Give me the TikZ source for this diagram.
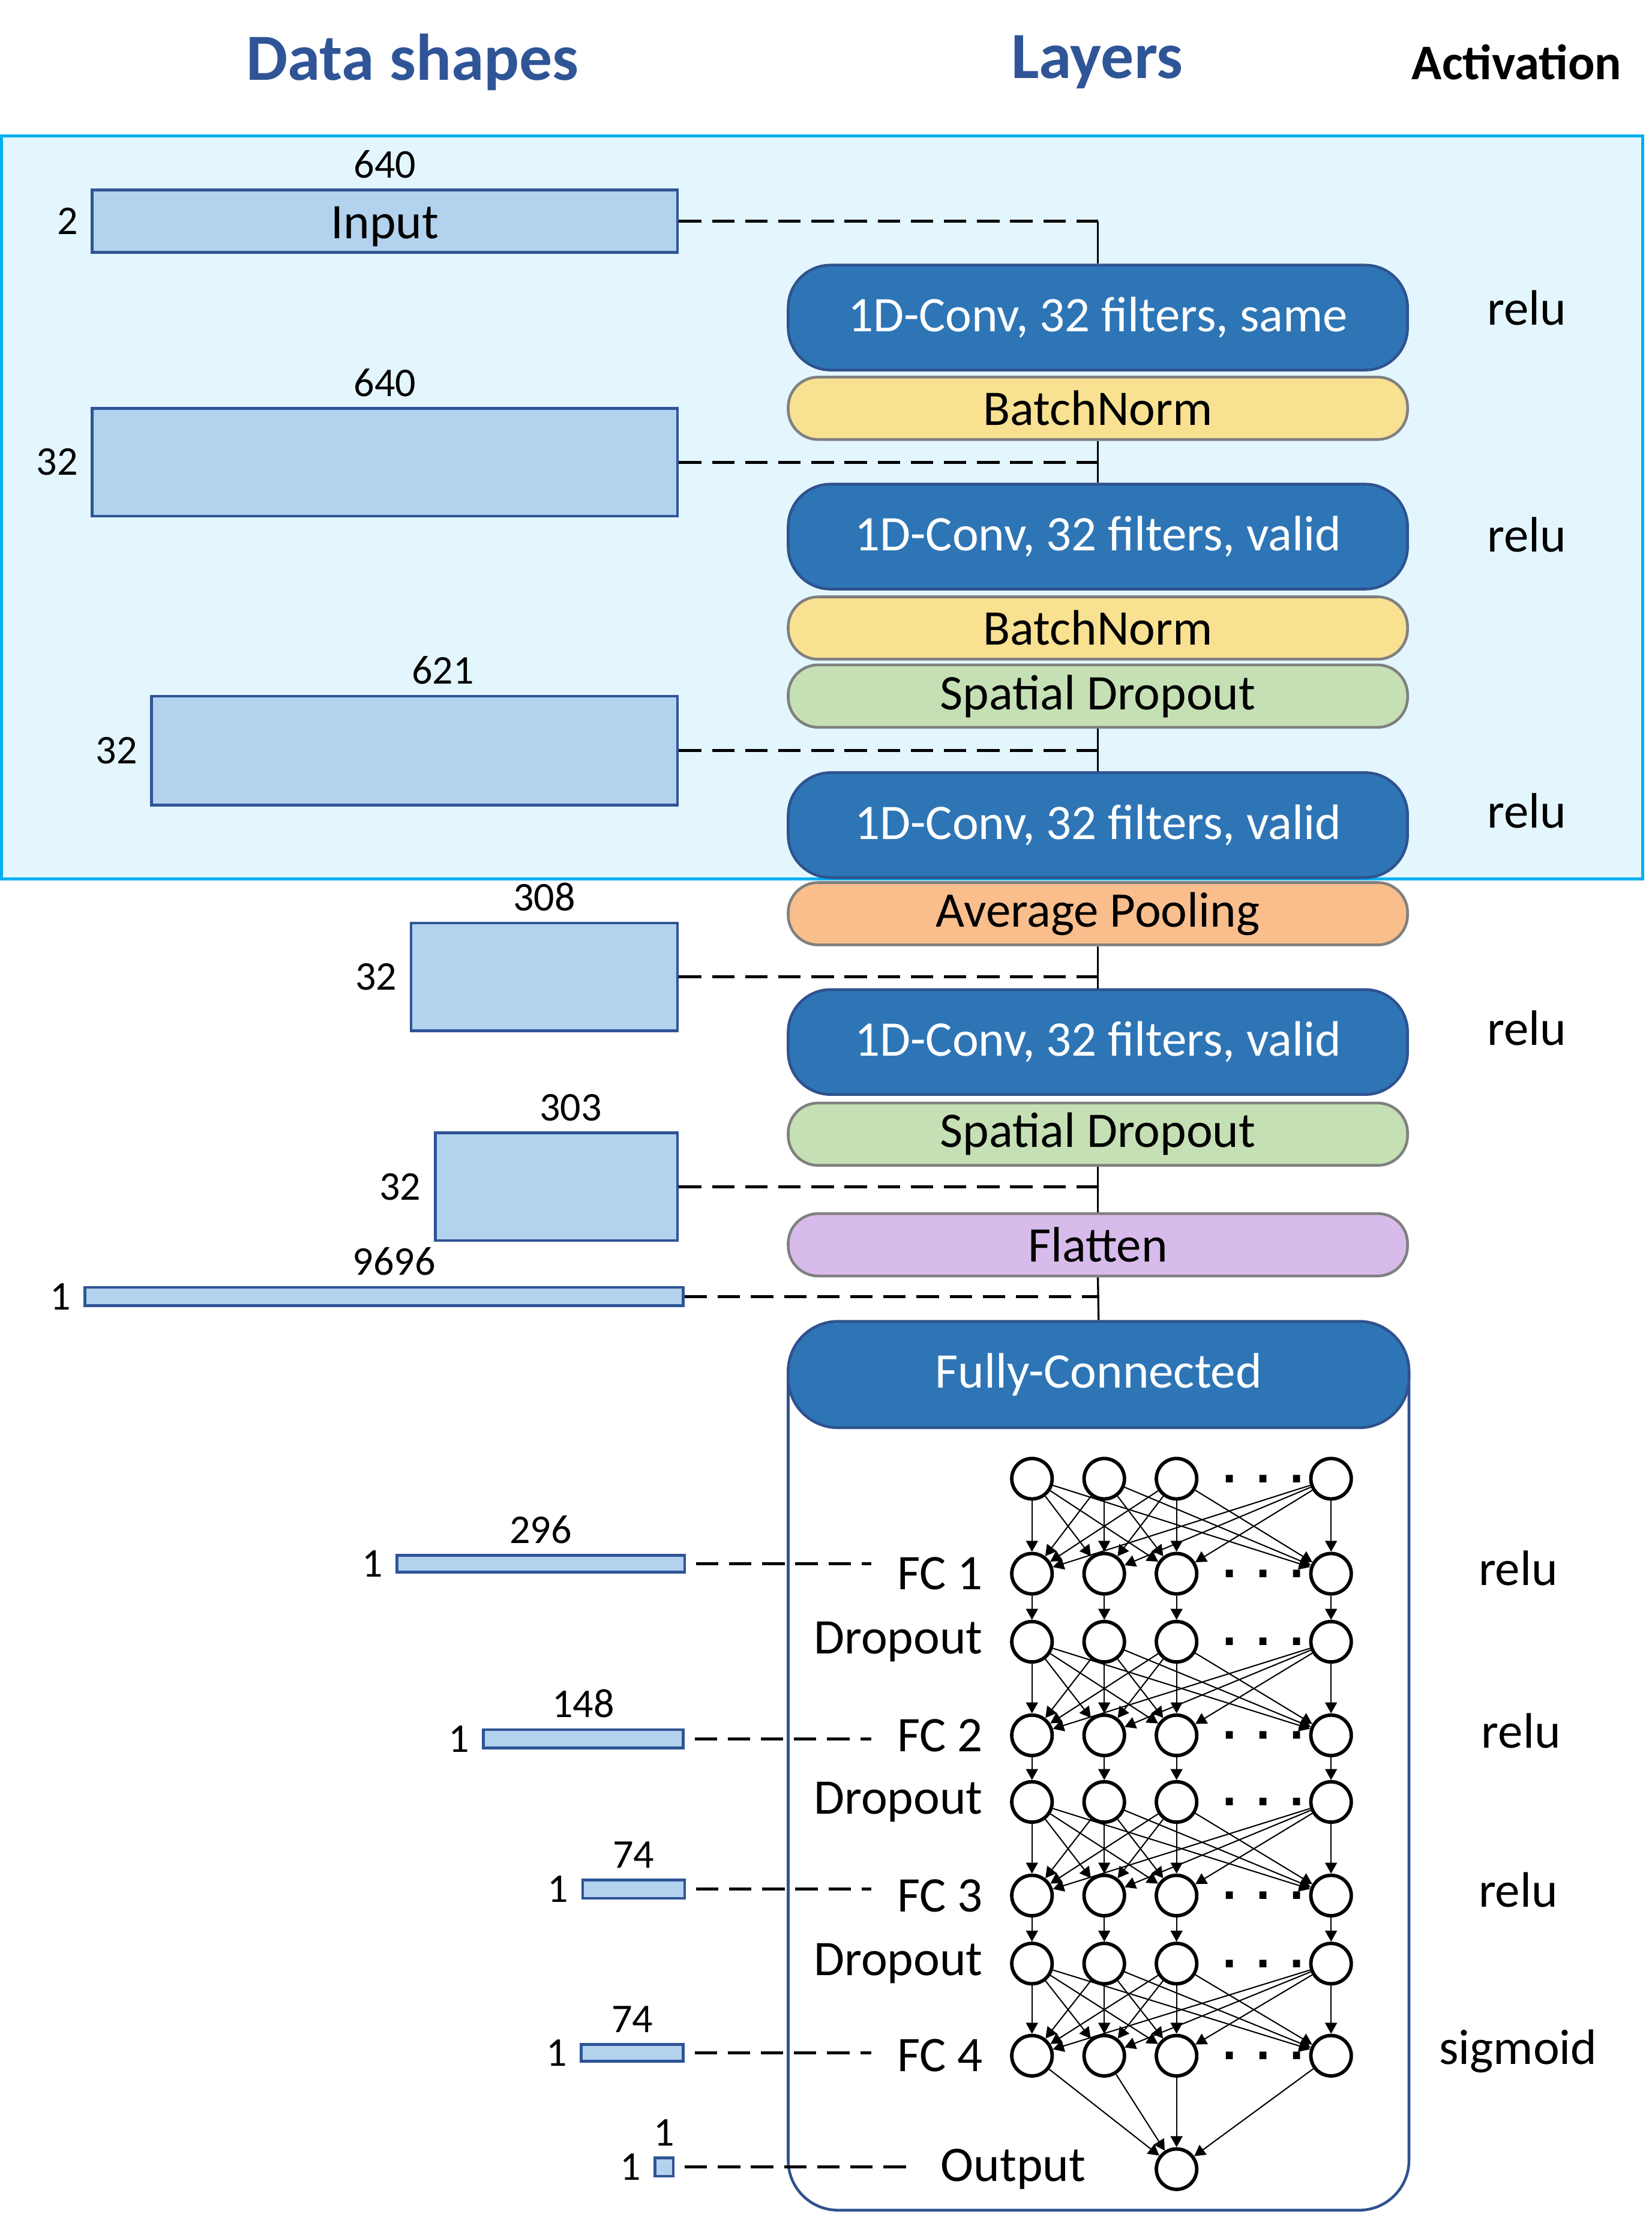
\documentclass[tikz,border=0pt]{standalone}
\usepackage{fontspec}
\setmainfont{Carlito}
\newfontfamily\dotfont{DejaVu Sans}
\usetikzlibrary{arrows.meta,positioning,calc,fit}

\definecolor{titleblue}{RGB}{47,85,151}
\definecolor{convblue}{RGB}{46,117,182}
\definecolor{convedge}{RGB}{47,82,143}
\definecolor{shapefill}{RGB}{178,210,238}
\definecolor{shapeedge}{RGB}{47,84,150}
\definecolor{normyellow}{RGB}{248,225,145}
\definecolor{dropgreen}{RGB}{197,224,180}
\definecolor{poolorange}{RGB}{250,190,140}
\definecolor{flatpurple}{RGB}{215,187,234}
\definecolor{stagefill}{RGB}{227,246,253}
\definecolor{stageedge}{RGB}{0,176,240}

\begin{document}
\begin{tikzpicture}[x=0.02cm, y=-0.02cm, node distance=0.6cm,
    heading/.style={font=\fontsize{26.5}{30}\selectfont\bfseries, text=titleblue},
    datashape/.style={draw=shapeedge, fill=shapefill, line width=1.1pt, inner sep=0pt},
    dimlabel/.style={font=\fontsize{16.4}{18}\selectfont, inner sep=2pt},
    layerbox/.style={minimum width=8.74cm, minimum height=0.88cm, rounded corners=12pt, draw=gray, line width=1.1pt, font=\fontsize{20}{24}\selectfont},
    convbox/.style={layerbox, minimum height=1.48cm, rounded corners=17pt, fill=convblue, draw=convedge, text=white},
    acttext/.style={font=\fontsize{20}{24}\selectfont},
    dashline/.style={line width=1.2pt, dash pattern=on 9pt off 4.3pt},
    link/.style={line width=0.8pt},
    neuron/.style={circle, draw, line width=1.4pt, minimum size=0.57cm, inner sep=0pt},
    synapse/.style={line width=0.5pt, -{Triangle[length=4.4pt, width=4.8pt]}},
    fclabel/.style={font=\fontsize{20}{24}\selectfont},
  ]
  \useasboundingbox (0,0) rectangle (1165,1568);

  % column headings
  \node (hshape) [heading] at (291,44) {Data shapes};
  \node (hlayer) [heading] at (774,44) {Layers};
  \node (hact) [font=\fontsize{20}{24}\selectfont\bfseries] at (1070,44) {Activation};

  % convolutional stage
  \node (stage) [fit={(1,96) (1159,620)}, inner sep=0pt, draw=stageedge, fill=stagefill, line width=1.2pt] {};

  % data shapes
  \node (r1) [datashape, fit={(65,134) (478,178)}] {};
  \node (r2) [datashape, fit={(65,288) (478,364)}] {};
  \node (r3) [datashape, fit={(107,491) (478,568)}] {};
  \node (r4) [datashape, fit={(290,651) (478,727)}] {};
  \node (r5) [datashape, fit={(307,799) (478,875)}] {};
  \node (r6) [datashape, fit={(60,908) (482,921)}] {};
  \node (r7) [datashape, fit={(280,1097) (483,1109)}] {};
  \node (r8) [datashape, fit={(341,1220) (482,1233)}] {};
  \node (r9) [datashape, fit={(411,1326) (483,1339)}] {};
  \node (r10) [datashape, fit={(410,1442) (482,1454)}] {};
  \node (r11) [datashape, fit={(462,1522) (475,1535)}] {};
  \node (inlab) [font=\fontsize{20}{24}\selectfont, yshift=-0.08cm] at (r1.center) {Input};

  \node (w1) [dimlabel, above=2pt of r1] {640};
  \node (w2) [dimlabel, above=2pt of r2] {640};
  \node (w3) [dimlabel, above=2pt of r3, xshift=0.4cm] {621};
  \node (w4) [dimlabel, above=2pt of r4] {308};
  \node (w5) [dimlabel, above=2pt of r5, xshift=0.2cm] {303};
  \node (w6) [dimlabel, above=2pt of r6, xshift=0.14cm] {9696};
  \node (w7) [dimlabel, above=2pt of r7] {296};
  \node (w8) [dimlabel, above=2pt of r8] {148};
  \node (w9) [dimlabel, above=2pt of r9] {74};
  \node (w10) [dimlabel, above=2pt of r10] {74};
  \node (w11) [dimlabel, above=2pt of r11] {1};

  \node (h1) [dimlabel, left=3pt of r1] {2};
  \node (h2) [dimlabel, left=3pt of r2] {32};
  \node (h3) [dimlabel, left=3pt of r3] {32};
  \node (h4) [dimlabel, left=3pt of r4] {32};
  \node (h5) [dimlabel, left=3pt of r5] {32};
  \node (h6) [dimlabel, left=3pt of r6] {1};
  \node (h7) [dimlabel, left=3pt of r7] {1};
  \node (h8) [dimlabel, left=3pt of r8] {1};
  \node (h9) [dimlabel, left=3pt of r9] {1};
  \node (h10) [dimlabel, left=3pt of r10] {1};
  \node (h11) [dimlabel, left=3pt of r11] {1};

  % layers
  \node (conv1) [convbox] at (774.5,224) {1D-Conv, 32 filters, same};
  \node (bn1) [layerbox, fill=normyellow] at (774.5,288) {BatchNorm};
  \node (conv2) [convbox] at (774.5,378.5) {1D-Conv, 32 filters, valid};
  \node (bn2) [layerbox, fill=normyellow] at (774.5,443) {BatchNorm};
  \node (sd1) [layerbox, fill=dropgreen] at (774.5,491) {Spatial Dropout};
  \node (conv3) [convbox] at (774.5,582) {1D-Conv, 32 filters, valid};
  \node (pool) [layerbox, fill=poolorange] at (774.5,644.5) {Average Pooling};
  \node (conv4) [convbox] at (774.5,735) {1D-Conv, 32 filters, valid};
  \node (sd2) [layerbox, fill=dropgreen] at (774.5,800) {Spatial Dropout};
  \node (flat) [layerbox, fill=flatpurple] at (774.5,878) {Flatten};
  \node (fcbox) [minimum width=8.76cm, minimum height=12.54cm, draw=convedge, line width=1.1pt, rounded corners=20pt, fill=white] at (775,1245.5) {};
  \node (fchead) [convbox, minimum width=8.76cm, minimum height=1.5cm, rounded corners=20pt, anchor=north] at (fcbox.north) {Fully-Connected};

  % activations
  \node (a1) [acttext] at (1077,217) {relu};
  \node (a2) [acttext] at (1077,377) {relu};
  \node (a3) [acttext] at (1077,572) {relu};
  \node (a4) [acttext] at (1077,725) {relu};
  \node (a5) [acttext] at (1071,1106) {relu};
  \node (a6) [acttext] at (1073,1221) {relu};
  \node (a7) [acttext] at (1071,1333) {relu};
  \node (a8) [acttext] at (1071,1447) {sigmoid};

  % shapes to layers
  \draw[dashline] (r1.east) -- (r1.east -| conv1.north);
  \draw[link] (r1.east -| conv1.north) -- (conv1.north);
  \draw[dashline] (r2.east) -- (r2.east -| bn1.south);
  \draw[link] (bn1.south) -- (conv2.north);
  \draw[dashline] (r3.east) -- (r3.east -| sd1.south);
  \draw[link] (sd1.south) -- (conv3.north);
  \draw[dashline] (r4.east) -- (r4.east -| pool.south);
  \draw[link] (pool.south) -- (conv4.north);
  \draw[dashline] (r5.east) -- (r5.east -| sd2.south);
  \draw[link] (sd2.south) -- (flat.north);
  \draw[dashline] (r6.east) -- (r6.east -| flat.south);
  \draw[link] (flat.south) -- (fcbox.north);

  % dense network
  \foreach \row/\yy in {0/1043, 1/1110, 2/1158, 3/1224, 4/1271, 5/1337, 6/1385, 7/1450} {
    \foreach \col/\xx in {1/728, 2/779, 3/830, 4/939}
      \node (n\row\col) [neuron] at (\xx,\yy) {};
    \node (dots\row) [font=\dotfont\fontsize{16}{16}\selectfont\bfseries] at (891,\yy) {. . .};
  }
  \node (out) [neuron] at (830,1530) {};

  \foreach \a/\b in {0/1, 2/3, 4/5, 6/7}
    \foreach \i in {1,...,4}
      \foreach \j in {1,...,4}
        \draw[synapse] (n\a\i) -- (n\b\j);
  \foreach \a/\b in {1/2, 3/4, 5/6}
    \foreach \i in {1,...,4}
      \draw[synapse] (n\a\i) -- (n\b\i);
  \foreach \i in {1,...,4}
    \draw[synapse] (n7\i) -- (out);

  \node (l1) [fclabel, left=0.26cm of n11] {FC 1};
  \node (l2) [fclabel, left=0.26cm of n21] {Dropout};
  \node (l3) [fclabel, left=0.26cm of n31] {FC 2};
  \node (l4) [fclabel, left=0.26cm of n41] {Dropout};
  \node (l5) [fclabel, left=0.26cm of n51] {FC 3};
  \node (l6) [fclabel, left=0.26cm of n61] {Dropout};
  \node (l7) [fclabel, left=0.26cm of n71] {FC 4};
  \node (l8) [fclabel, left=0.85cm of out] {Output};

  \draw[dashline, shorten <=4pt, shorten >=7pt] (r7.east) -- (r7.east -| l1.west);
  \draw[dashline, shorten <=4pt, shorten >=7pt] (r8.east) -- (r8.east -| l3.west);
  \draw[dashline, shorten <=4pt, shorten >=7pt] (r9.east) -- (r9.east -| l5.west);
  \draw[dashline, shorten <=4pt, shorten >=7pt] (r10.east) -- (r10.east -| l7.west);
  \draw[dashline, shorten <=4pt, shorten >=7pt] (r11.east) -- (r11.east -| l8.west);
\end{tikzpicture}
\end{document}
